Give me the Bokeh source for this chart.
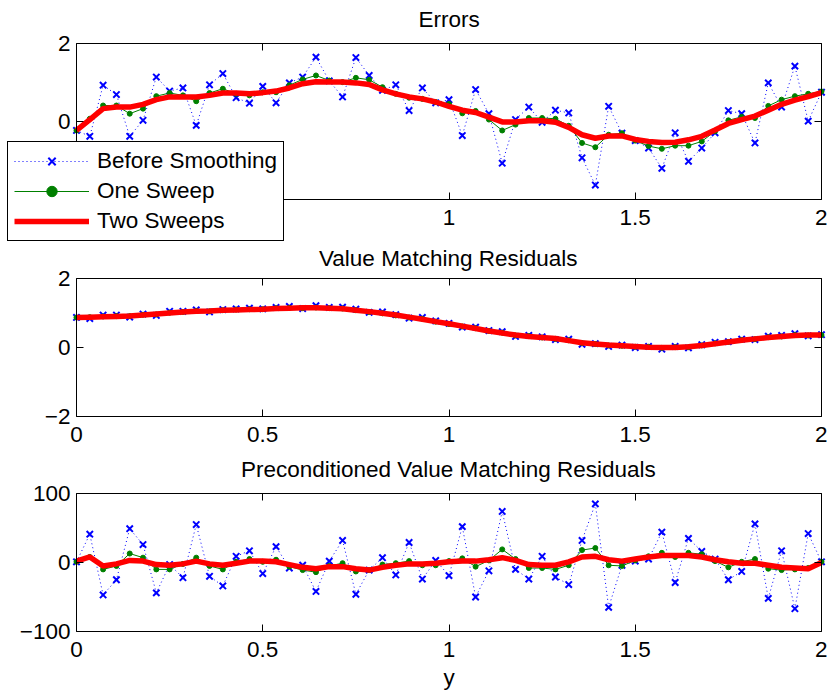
import numpy as np
from bokeh.plotting import figure
from bokeh.layouts import column
from bokeh.models import (LinearAxis, FixedTicker, Legend, LegendItem, Range1d,
                          CustomJSTickFormatter)
from bokeh.embed import file_html
from bokeh.resources import INLINE

# sample grid (57 nodes on [0, 2])
y_nodes = np.linspace(0.0, 2.0, 57)

x_ticks = [0, 0.5, 1, 1.5, 2]
ticks_err = [-2, 0, 2]
ticks_val = [-2, 0, 2]
ticks_pre = [-100, 0, 100]

titles = ["Errors", "Value Matching Residuals", "Preconditioned Value Matching Residuals"]
series_names = ["Before Smoothing", "One Sweep", "Two Sweeps"]
x_label = "y"

# ---- Errors ----
err_before = [-0.23, -0.38, 0.93, 0.69, -0.38, 0.03, 1.14, 0.78, 0.86, -0.10,
              0.94, 1.23, 0.61, 0.47, 0.90, 0.48, 0.99, 1.14, 1.65, 1.04,
              0.63, 1.64, 1.18, 0.80, 0.94, 0.28, 0.86, 0.48, 0.56, -0.36,
              0.82, 0.20, -1.07, 0.05, 0.37, -0.02, 0.29, 0.22, -0.93, -1.63,
              0.39, -0.30, -0.49, -0.68, -1.20, -0.29, -1.02, -0.68, -0.29, 0.28,
              0.20, -0.55, 0.99, 0.37, 1.42, 0.01, 0.75]
err_one = [-0.23, 0.07, 0.41, 0.41, 0.20, 0.33, 0.65, 0.73, 0.67, 0.52,
           0.73, 0.84, 0.71, 0.67, 0.75, 0.75, 0.93, 1.08, 1.18, 1.05,
           1.01, 1.12, 1.07, 0.88, 0.71, 0.61, 0.58, 0.50, 0.45, 0.21,
           0.27, 0.05, -0.23, -0.08, 0.09, 0.09, 0.07, -0.11, -0.55, -0.66,
           -0.34, -0.30, -0.49, -0.63, -0.70, -0.62, -0.62, -0.51, -0.25, 0.03,
           0.12, 0.09, 0.40, 0.56, 0.65, 0.71, 0.77]
err_two = [-0.23, 0.05, 0.33, 0.37, 0.37, 0.44, 0.56, 0.63, 0.63, 0.63,
           0.67, 0.73, 0.73, 0.71, 0.74, 0.78, 0.86, 0.97, 1.02, 1.01,
           1.01, 0.99, 0.95, 0.81, 0.71, 0.63, 0.58, 0.50, 0.39, 0.29,
           0.23, 0.11, -0.01, -0.01, 0.02, 0.02, -0.02, -0.15, -0.34, -0.43,
           -0.37, -0.37, -0.46, -0.51, -0.54, -0.53, -0.47, -0.38, -0.22, -0.05,
           0.05, 0.14, 0.29, 0.44, 0.55, 0.64, 0.74]

# ---- Value matching residuals ----
val_before = [0.87, 0.84, 0.94, 0.94, 0.88, 0.97, 0.93, 1.05, 1.05, 1.09,
              1.03, 1.10, 1.12, 1.14, 1.12, 1.16, 1.19, 1.13, 1.21, 1.16,
              1.17, 1.11, 1.02, 1.03, 0.95, 0.85, 0.87, 0.77, 0.70, 0.59,
              0.59, 0.49, 0.46, 0.32, 0.35, 0.31, 0.23, 0.24, 0.09, 0.11,
              0.03, 0.07, 0.00, 0.03, -0.05, 0.03, -0.01, 0.08, 0.15, 0.17,
              0.24, 0.23, 0.33, 0.35, 0.40, 0.34, 0.37]
val_one = [0.87, 0.88, 0.90, 0.91, 0.91, 0.95, 0.96, 1.01, 1.03, 1.06,
           1.05, 1.08, 1.10, 1.11, 1.11, 1.14, 1.15, 1.14, 1.16, 1.14,
           1.13, 1.08, 1.03, 0.99, 0.93, 0.87, 0.83, 0.75, 0.68, 0.61,
           0.56, 0.48, 0.43, 0.35, 0.33, 0.29, 0.25, 0.21, 0.13, 0.10,
           0.06, 0.05, 0.02, 0.02, -0.01, 0.01, 0.01, 0.06, 0.12, 0.16,
           0.22, 0.24, 0.30, 0.32, 0.36, 0.35, 0.36]
val_two = [0.87, 0.88, 0.89, 0.90, 0.91, 0.94, 0.97, 1.00, 1.03, 1.05,
           1.06, 1.08, 1.09, 1.10, 1.11, 1.13, 1.14, 1.15, 1.15, 1.14,
           1.12, 1.08, 1.04, 0.99, 0.94, 0.88, 0.82, 0.75, 0.69, 0.62,
           0.55, 0.48, 0.42, 0.36, 0.32, 0.29, 0.26, 0.20, 0.14, 0.10,
           0.07, 0.05, 0.03, 0.01, 0.00, 0.00, 0.02, 0.06, 0.11, 0.16,
           0.21, 0.25, 0.29, 0.32, 0.35, 0.36, 0.36]

# ---- Preconditioned value matching residuals ----
pre_before = [1, 41, -47, -25, 49, 26, -44, -3, -22, 55,
              -20, -34, 9, 17, -16, 23, -8, -4, -42, 2,
              32, -46, -11, 7, -18, 29, -24, 3, -19, 52,
              -50, -12, 74, -10, -24, 9, -21, -32, 32, 85,
              -65, -4, 2, 5, 44, -29, 35, 16, 5, -25,
              -13, 56, -52, 17, -67, 42, 1]
pre_one = [1, 8, -10, -5, 13, 7, -10, -10, -2, 7,
           -5, -10, 1, 5, 1, 4, -6, -11, -14, -5,
           -1, -13, -11, -3, -1, 2, -4, -4, 2, 6,
           -6, 3, 19, 5, -8, -8, -10, -4, 18, 21,
           -4, -5, 3, 9, 14, 8, 14, 12, 2, -7,
           1, 5, -9, -11, -10, -8, 1]
pre_two = [2, 8, -5, -2, 3, 2, -3, -4, -2, 2,
           -2, -4, -1, 2, 2, 1, -3, -7, -9, -6,
           -6, -9, -11, -7, -4, -2, -2, -1, 1, 2,
           2, 4, 7, 3, -3, -4, -4, 1, 8, 9,
           4, 2, 5, 8, 10, 10, 10, 8, 4, 1,
           -1, -1, -4, -7, -8, -9, 0]

FONT = "Liberation Sans"
FS = "22.5px"
BLUE = "#0000ff"
GREEN = "#008000"
RED = "#ff0000"
W = 827
LEFT = 76           # px from canvas left to the plot box
RIGHT = 6           # px from the plot box to canvas right
BOX_W = W - LEFT - RIGHT
unit_x = BOX_W / (x_ticks[-1] - x_ticks[0])

fmt_code = "return tick < 0 ? '\\u2212' + String(Math.abs(tick)) : String(tick);"


def style_main_axis(ax, ticks, standoff):
    ax.ticker = FixedTicker(ticks=ticks)
    ax.formatter = CustomJSTickFormatter(code=fmt_code)
    ax.major_tick_in = 7
    ax.major_tick_out = 0
    ax.minor_tick_line_color = None
    ax.major_tick_line_color = "black"
    ax.axis_line_color = "black"
    ax.major_label_text_font = FONT
    ax.major_label_text_font_size = FS
    ax.major_label_text_color = "black"
    ax.major_label_standoff = standoff


def mirror_axis(ticks):
    return LinearAxis(ticker=FixedTicker(ticks=ticks), major_tick_in=7, major_tick_out=0,
                      minor_tick_line_color=None, axis_line_color="black",
                      major_tick_line_color="black",
                      formatter=CustomJSTickFormatter(code="return '';"),
                      major_label_text_font_size="1px", major_label_standoff=0)


def add_series(p, before, one, two):
    b_line = p.line(y_nodes, before, line_color=BLUE, line_width=1, line_dash="1 3")
    b_mark = p.scatter(y_nodes, before, marker="x", size=9, line_color=BLUE, line_width=2.0)
    g_line = p.line(y_nodes, one, line_color=GREEN, line_width=1)
    g_mark = p.scatter(y_nodes, one, marker="circle", size=5, line_color=GREEN, fill_color=GREEN)
    r_line = p.line(y_nodes, two, line_color=RED, line_width=5.5)
    return [b_line, b_mark], [g_line, g_mark], [r_line]


def boxed_fig(title, title_w, height, frame_top, box_top, box_bot, yticks):
    """Frame fills the canvas below the title; the MATLAB-like box is drawn by four
    axes pinned to the data limits, so titles, labels and the legend sit freely around it."""
    unit_y = (box_bot - box_top) / (yticks[-1] - yticks[0])
    xr = Range1d(x_ticks[0] - LEFT / unit_x, x_ticks[-1] + RIGHT / unit_x)
    yr = Range1d(yticks[0] - (height - box_bot) / unit_y, yticks[-1] + (box_top - frame_top) / unit_y)
    p = figure(width=W, height=height, x_range=xr, y_range=yr,
               output_backend="svg", toolbar_location=None, title=title,
               min_border_left=0, min_border_right=0,
               min_border_top=frame_top, min_border_bottom=0)
    p.frame_align = False
    p.outline_line_color = None
    p.xgrid.visible = False
    p.ygrid.visible = False
    p.background_fill_color = "white"
    p.border_fill_color = "white"
    p.title.text_font = FONT
    p.title.text_font_size = FS
    p.title.text_font_style = "normal"
    p.title.text_color = "black"
    p.title.standoff = 0
    p.title.align = "left"
    p.title.offset = LEFT + BOX_W / 2 - title_w / 2
    xa, ya = p.xaxis[0], p.yaxis[0]
    style_main_axis(xa, x_ticks, 10)
    style_main_axis(ya, yticks, 6)
    xa.fixed_location = yticks[0]
    xa.bounds = (x_ticks[0], x_ticks[-1])
    ya.fixed_location = x_ticks[0]
    ya.bounds = (yticks[0], yticks[-1])
    top_ax = mirror_axis(x_ticks)
    top_ax.fixed_location = yticks[-1]
    top_ax.bounds = (x_ticks[0], x_ticks[-1])
    right_ax = mirror_axis(yticks)
    right_ax.fixed_location = x_ticks[-1]
    right_ax.bounds = (yticks[0], yticks[-1])
    p.add_layout(top_ax, "above")
    p.add_layout(right_ax, "right")
    return p, xa, ya


p1, xa1, ya1 = boxed_fig(titles[0], 61, 242, 31, 43, 199, ticks_err)
r_b, r_g, r_r = add_series(p1, err_before, err_one, err_two)

p2, xa2, ya2 = boxed_fig(titles[1], 260, 211, 28, 36, 174, ticks_val)
add_series(p2, val_before, val_one, val_two)

p3, xa3, ya3 = boxed_fig(titles[2], 416, 237, 28, 40, 178, ticks_pre)
add_series(p3, pre_before, pre_one, pre_two)
xa3.axis_label = x_label
xa3.axis_label_text_font = FONT
xa3.axis_label_text_font_size = FS
xa3.axis_label_text_font_style = "normal"
xa3.axis_label_text_color = "black"
xa3.axis_label_standoff = 5

legend = Legend(items=[LegendItem(label=series_names[0], renderers=r_b),
                       LegendItem(label=series_names[1], renderers=r_g),
                       LegendItem(label=series_names[2], renderers=r_r)],
                location=(7, 1))
legend.label_text_font = FONT
legend.label_text_font_size = FS
legend.label_text_color = "black"
legend.glyph_width = 75
legend.glyph_height = 26
legend.label_height = 26
legend.label_standoff = 8
legend.spacing = 4
legend.padding = 6
legend.margin = 0
legend.border_line_color = "black"
legend.border_line_width = 1
legend.border_line_alpha = 1.0
legend.background_fill_color = "white"
legend.background_fill_alpha = 1.0
p1.add_layout(legend)

layout = column(p1, p2, p3)
open("out.html", "w").write(file_html(layout, INLINE))
